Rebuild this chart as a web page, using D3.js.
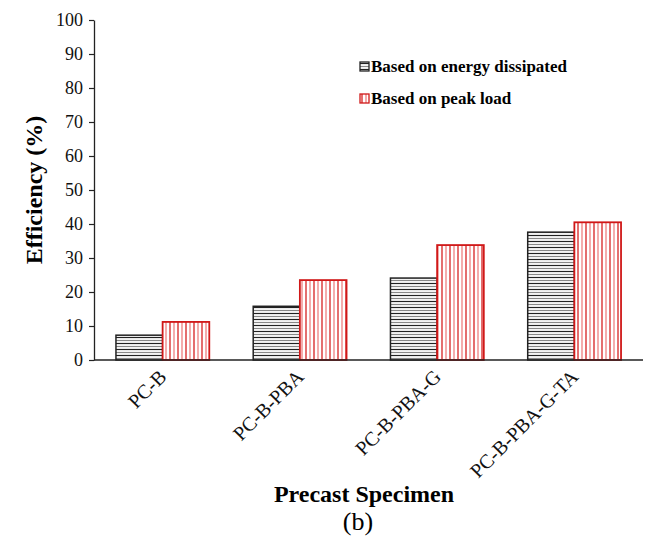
<!DOCTYPE html>
<html>
<head>
<meta charset="utf-8">
<script src="https://cdn.jsdelivr.net/npm/d3@7"></script>
<style>
  body { margin: 0; background: #fff; }
  text { font-family: "Liberation Serif", "Times New Roman", serif; }
</style>
</head>
<body>
<div id="chart"></div>
<script>
// data
var specimens = ["PC-B", "PC-B-PBA", "PC-B-PBA-G", "PC-B-PBA-G-TA"]
var energyVals = [7.3, 15.8, 24.1, 37.6]
var peakVals = [11.2, 23.5, 33.8, 40.5]
var seriesNames = ["Based on energy dissipated", "Based on peak load"]
var yTicks = [0, 10, 20, 30, 40, 50, 60, 70, 80, 90, 100]

var width = 651, height = 538
var margin = {left: 94, right: 8, top: 20, bottom: 178}

var svg = d3.select("#chart").append("svg")
  .attr("width", width)
  .attr("height", height)

// hatch patterns
var defs = svg.append("defs")
var ph = defs.append("pattern")
  .attr("id", "hatchH")
  .attr("patternUnits", "userSpaceOnUse")
  .attr("width", 6).attr("height", 6)
ph.append("rect").attr("width", 6).attr("height", 6).attr("fill", "#fff")
ph.append("line").attr("x1", 0).attr("x2", 6).attr("y1", 1.5).attr("y2", 1.5)
  .attr("stroke", "#222").attr("stroke-width", 1.2)
ph.append("line").attr("x1", 0).attr("x2", 6).attr("y1", 4.5).attr("y2", 4.5)
  .attr("stroke", "#888").attr("stroke-width", 1.2)

var pv = defs.append("pattern")
  .attr("id", "hatchV")
  .attr("patternUnits", "userSpaceOnUse")
  .attr("width", 8).attr("height", 8)
pv.append("rect").attr("width", 8).attr("height", 8).attr("fill", "#fff")
pv.append("line").attr("y1", 0).attr("y2", 8).attr("x1", 2).attr("x2", 2)
  .attr("stroke", "#d62020").attr("stroke-width", 1.3)
pv.append("line").attr("y1", 0).attr("y2", 8).attr("x1", 6).attr("x2", 6)
  .attr("stroke", "#ee8080").attr("stroke-width", 1.3)

var x = d3.scaleBand()
  .domain(specimens)
  .range([margin.left, width - margin.right])
  .paddingInner(0.32)
  .paddingOuter(0.16)

var y = d3.scaleLinear()
  .domain([0, 100])
  .range([height - margin.bottom, margin.top])

var g = svg.append("g")

// bars
var half = x.bandwidth() / 2
g.selectAll(".bE").data(specimens).enter().append("rect")
  .attr("x", function(d) { return x(d) })
  .attr("y", function(d, i) { return y(energyVals[i]) })
  .attr("width", half)
  .attr("height", function(d, i) { return y(0) - y(energyVals[i]) })
  .attr("fill", "url(#hatchH)")
  .attr("stroke", "#222").attr("stroke-width", 1.5)

g.selectAll(".bP").data(specimens).enter().append("rect")
  .attr("x", function(d) { return x(d) + half })
  .attr("y", function(d, i) { return y(peakVals[i]) })
  .attr("width", half)
  .attr("height", function(d, i) { return y(0) - y(peakVals[i]) })
  .attr("fill", "url(#hatchV)")
  .attr("stroke", "#d01818").attr("stroke-width", 1.8)

// y axis
var yAxis = svg.append("g")
  .attr("transform", "translate(" + margin.left + ",0)")
  .call(d3.axisLeft(y).tickValues(yTicks).tickSize(5).tickSizeOuter(0))
yAxis.select(".domain").attr("stroke", "#222").attr("stroke-width", 1.3)
yAxis.selectAll(".tick line").attr("stroke", "#222").attr("stroke-width", 1.2)
yAxis.selectAll(".tick text")
  .attr("x", -11)
  .attr("font-size", 18)
  .attr("fill", "#111")

// x axis
var xAxis = svg.append("g")
  .attr("transform", "translate(0," + y(0) + ")")
  .call(d3.axisBottom(x).tickSize(0).tickSizeOuter(0))
xAxis.select(".domain")
  .attr("d", "M" + margin.left + ",0H" + (width - margin.right))
  .attr("stroke", "#222").attr("stroke-width", 1.5)
xAxis.selectAll(".tick text")
  .attr("font-size", 20)
  .attr("fill", "#111")
  .attr("text-anchor", "end")
  .attr("dy", 0)
  .attr("y", 0)
  .attr("transform", "translate(5,18) rotate(-45)")

// axis titles
svg.append("text")
  .attr("transform", "translate(42," + ((margin.top + y(0)) / 2) + ") rotate(-90)")
  .attr("text-anchor", "middle")
  .attr("font-size", 24).attr("font-weight", "bold")
  .text("Efficiency (%)")

svg.append("text")
  .attr("x", 364).attr("y", 502)
  .attr("text-anchor", "middle")
  .attr("font-size", 24).attr("font-weight", "bold")
  .text("Precast Specimen")

svg.append("text")
  .attr("x", 358).attr("y", 530)
  .attr("text-anchor", "middle")
  .attr("font-size", 26)
  .text("(b)")

// legend
var legFills = ["url(#hatchH)", "url(#hatchV)"]
var legStroke = ["#222", "#d01818"]
var leg = svg.selectAll(".leg").data(seriesNames).enter().append("g")
  .attr("transform", function(d, i) { return "translate(360," + (62 + i * 32) + ")" })
leg.append("rect")
  .attr("width", 9).attr("height", 9)
  .attr("fill", function(d, i) { return legFills[i] })
  .attr("stroke", function(d, i) { return legStroke[i] })
  .attr("stroke-width", 1.3)
leg.append("text")
  .attr("x", 11).attr("y", 10)
  .attr("font-size", 17).attr("font-weight", "bold")
  .text(function(d) { return d })
</script>
</body>
</html>
